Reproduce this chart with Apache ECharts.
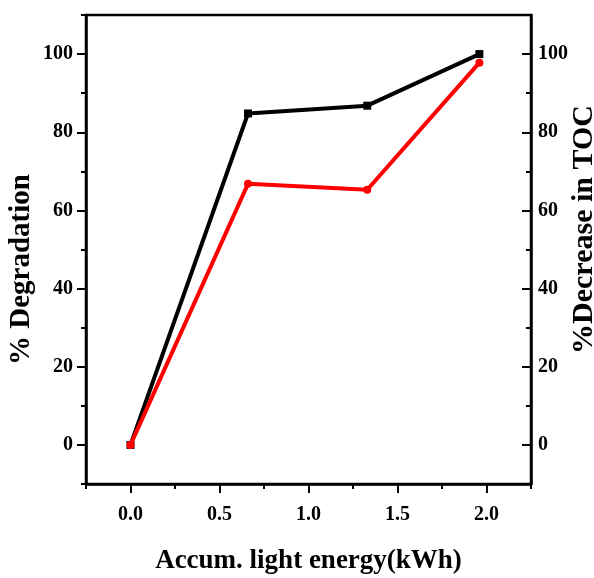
<!DOCTYPE html>
<html>
<head>
<meta charset="utf-8">
<script src="https://cdn.jsdelivr.net/npm/echarts@6/dist/echarts.min.js"></script>
<style>
  html, body { margin: 0; padding: 0; background: #fff; }
  #chart { width: 594px; height: 578px; }
</style>
</head>
<body>
<div id="chart"></div>
<script>
// Accumulated light energy (kWh) at each sampling point
const energy = [0, 0.66, 1.33, 1.96];
// % degradation (left axis)
const degradation = [0, 84.8, 86.8, 100];
// % decrease in TOC (right axis)
const tocDecrease = [0, 66.8, 65.3, 97.8];

// Axis ranges and tick positions
const xRange = [-0.25, 2.25];
const xMajor = [0, 0.5, 1.0, 1.5, 2.0];
const xMinor = [-0.25, 0.25, 0.75, 1.25, 1.75, 2.25];
const yRange = [-10, 110];
const yMajor = [0, 20, 40, 60, 80, 100];
const yMinor = [-10, 10, 30, 50, 70, 90, 110];

const FONT = '"Liberation Serif", "Times New Roman", serif';
const BLACK = '#000';

const pairs = (xs, ys) => xs.map((x, i) => [x, ys[i]]);

const labelStyle = { fontFamily: FONT, fontWeight: 'bold', fontSize: 20, color: BLACK };
const nameFont = size => ({ fontFamily: FONT, fontWeight: 'bold', fontSize: size, color: BLACK });

// Fixed plot box; labels and titles sit outside it without shrinking it
const gridBox = { left: 86, right: 63, top: 15, bottom: 94, containLabel: false, outerBoundsMode: 'none' };

// Main x axis: line, major ticks, labels, title
const xMain = {
  gridIndex: 0,
  type: 'value',
  min: xRange[0], max: xRange[1], interval: 0.25,
  name: 'Accum. light energy(kWh)',
  nameLocation: 'middle',
  nameGap: 64,
  nameMoveOverlap: false,
  nameTextStyle: nameFont(27),
  axisLine: { show: true, onZero: false, lineStyle: { color: BLACK, width: 2.5 } },
  axisTick: { show: true, customValues: xMajor, length: 9, lineStyle: { color: BLACK, width: 2 } },
  axisLabel: { ...labelStyle, margin: 21, customValues: xMajor, formatter: v => v.toFixed(1) },
  splitLine: { show: false }
};

// Overlay x axis carrying the short in-between ticks
const xMinorAxis = {
  gridIndex: 1,
  type: 'value',
  min: xRange[0], max: xRange[1], interval: 0.25,
  axisLine: { show: false, onZero: false },
  axisTick: { show: true, customValues: xMinor, length: 5, lineStyle: { color: BLACK, width: 2 } },
  axisLabel: { show: false },
  splitLine: { show: false }
};

function yMain(position, name, size, gap, inside, margin, padding) {
  return {
    gridIndex: 0,
    type: 'value',
    position: position,
    min: yRange[0], max: yRange[1], interval: 10,
    name: name,
    nameLocation: 'middle',
    nameRotate: 90,
    nameGap: gap,
    nameMoveOverlap: false,
    nameTextStyle: { ...nameFont(size), padding: padding },
    axisLine: { show: true, onZero: false, lineStyle: { color: BLACK, width: 2.5 } },
    axisTick: { show: true, inside: inside, customValues: yMajor, length: 9, lineStyle: { color: BLACK, width: 2 } },
    axisLabel: { ...labelStyle, margin: margin, customValues: yMajor },
    splitLine: { show: false }
  };
}

function yMinorAxis(position, inside) {
  return {
    gridIndex: 1,
    type: 'value',
    position: position,
    min: yRange[0], max: yRange[1], interval: 10,
    axisLine: { show: false, onZero: false },
    axisTick: { show: true, inside: inside, customValues: yMinor, length: 5, lineStyle: { color: BLACK, width: 2 } },
    axisLabel: { show: false },
    splitLine: { show: false }
  };
}

const chart = echarts.init(document.getElementById('chart'), null, { renderer: 'canvas' });
chart.setOption({
  backgroundColor: '#fff',
  animation: false,
  grid: [
    { ...gridBox, show: true, borderColor: BLACK, borderWidth: 2.5, backgroundColor: 'transparent' },
    { ...gridBox, show: false }
  ],
  xAxis: [xMain, xMinorAxis],
  yAxis: [
    yMain('left', '% Degradation', 29, 50, false, 13, [0, 40, 0, 0]),
    yMain('right', '%Decrease in TOC', 30, 38, true, 7, [0, 0, 0, 40]),
    yMinorAxis('left', false),
    yMinorAxis('right', true)
  ],
  series: [
    {
      name: '% Degradation',
      type: 'line',
      xAxisIndex: 0,
      yAxisIndex: 0,
      data: pairs(energy, degradation),
      symbol: 'rect',
      symbolSize: 8,
      lineStyle: { color: BLACK, width: 4 },
      itemStyle: { color: BLACK },
      z: 3
    },
    {
      name: '%Decrease in TOC',
      type: 'line',
      xAxisIndex: 0,
      yAxisIndex: 1,
      data: pairs(energy, tocDecrease),
      symbol: 'circle',
      symbolSize: 8,
      lineStyle: { color: '#f00', width: 4 },
      itemStyle: { color: '#f00' },
      z: 4
    }
  ]
});
</script>
</body>
</html>
